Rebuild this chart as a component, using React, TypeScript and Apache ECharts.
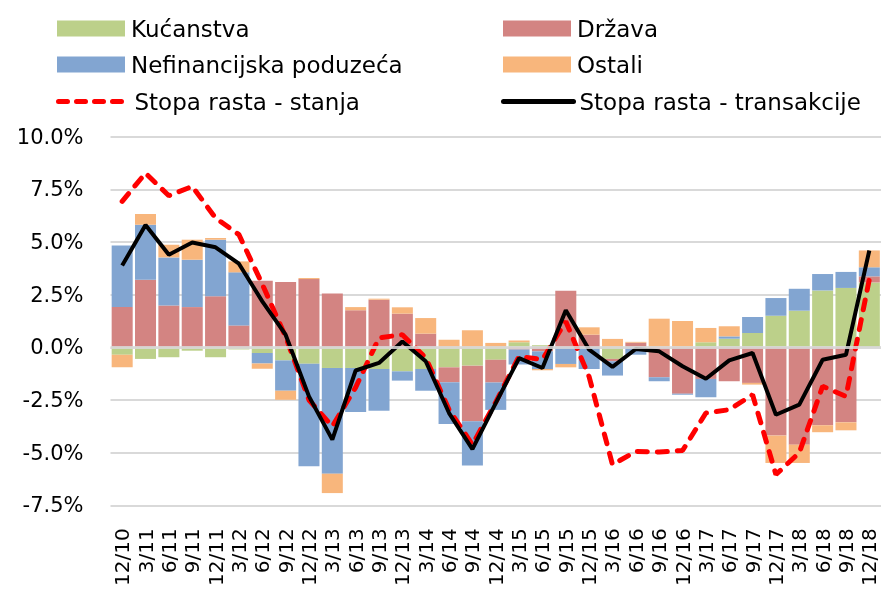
import React, { useEffect, useRef } from "react";
import * as echarts from "echarts";

const categories = [
  "12/10", "3/11", "6/11", "9/11", "12/11", "3/12", "6/12", "9/12", "12/12",
  "3/13", "6/13", "9/13", "12/13", "3/14", "6/14", "9/14", "12/14",
  "3/15", "6/15", "9/15", "12/15", "3/16", "6/16", "9/16", "12/16",
  "3/17", "6/17", "9/17", "12/17", "3/18", "6/18", "9/18", "12/18",
];

const kucanstva = [
  -0.35, -0.55, -0.47, -0.16, -0.47, -0.1, -0.27, -0.62, -0.78, -0.98, -0.98,
  -1.03, -1.14, -1.03, -0.95, -0.87, -0.59, 0.24, 0.1, 0, 0, -0.55, 0, 0, 0,
  0.24, 0.41, 0.68, 1.5, 1.74, 2.7, 2.82, 3.08,
];
const drzava = [
  1.91, 3.21, 1.99, 1.91, 2.42, 1.04, 3.16, 3.1, 3.24, 2.55, 1.76, 2.26, 1.6,
  0.65, -0.71, -2.64, -1.08, -0.1, -0.19, 2.69, 0.6, -0.11, 0.22, -1.42, -2.2,
  -1.5, -1.61, -1.69, -4.19, -4.62, -3.7, -3.56, 0.29,
];
const nefinancijska = [
  2.92, 2.61, 2.28, 2.25, 2.69, 2.52, -0.5, -1.44, -4.87, -5.02, -2.09, -1.98,
  -0.44, -1.03, -1.98, -2.1, -1.3, -0.71, -0.84, -0.79, -1.03, -0.68, -0.35,
  -0.19, -0.05, -0.87, 0.11, 0.76, 0.84, 1.04, 0.78, 0.76, 0.43,
];
const ostali = [
  -0.6, 0.51, 0.6, 0.95, 0.08, 0.52, -0.25, -0.43, 0.05, -0.92, 0.15, 0.05,
  0.3, 0.74, 0.36, 0.81, 0.21, 0.09, -0.06, -0.16, 0.35, 0.4, 0.04, 1.36, 1.25,
  0.68, 0.48, -0.08, -1.3, -0.87, -0.33, -0.38, 0.8,
];
const stopaStanja = [
  6.93, 8.27, 7.2, 7.64, 6.14, 5.35, 3.0, 0.5, -2.5, -3.75, -1.9, 0.45, 0.6,
  -0.5, -2.96, -4.62, -2.6, -0.43, -0.58, 1.23, -1.4, -5.57, -4.94, -4.97,
  -4.9, -3.12, -2.96, -2.25, -6.04, -5.0, -1.85, -2.33, 3.24,
];
const stopaTransakcije = [
  3.88, 5.81, 4.4, 4.98, 4.75, 3.97, 2.18, 0.6, -2.33, -4.38, -1.1, -0.74,
  0.28, -0.66, -3.12, -4.83, -2.65, -0.51, -0.98, 1.76, -0.11, -0.93, -0.08,
  -0.19, -0.9, -1.49, -0.62, -0.27, -3.2, -2.72, -0.59, -0.35, 4.6,
];

const FONT = "DejaVu Sans";

function legendItem(
  name: string,
  left: number,
  top: number,
  line?: { color: string; width: number; type: any }
) {
  return {
    data: [
      line
        ? {
            name,
            itemStyle: { opacity: 0 },
            lineStyle: { color: line.color, width: line.width, type: line.type, cap: "round" },
          }
        : { name, icon: "path://M0,0H68V16H0Z" },
    ],
    left,
    top,
    padding: 0,
    itemWidth: line ? 70 : 68,
    itemHeight: 16,
    selectedMode: false,
    textStyle: {
      fontSize: 23,
      fontFamily: FONT,
      color: "#000",
      padding: [0, 0, 0, 1],
    },
  };
}

export default function App() {
  const ref = useRef<HTMLDivElement>(null);
  useEffect(() => {
    if (!ref.current) return;
    const chart = echarts.init(ref.current, undefined, { renderer: "svg" });
    const barBase = {
      type: "bar",
      stack: "total",
      barCategoryGap: "10%",
    };
    chart.setOption({
      animation: false,
      legend: [
        legendItem("Kućanstva", 57, 17),
        legendItem("Država", 503, 17),
        legendItem("Nefinancijska poduzeća", 57, 53),
        legendItem("Ostali", 503, 53),
        legendItem("Stopa rasta - stanja", 56, 90, { color: "#ff0000", width: 5, type: [9, 9] }),
        legendItem("Stopa rasta - transakcije", 501, 90, { color: "#000000", width: 5, type: "solid" }),
      ],
      grid: { left: 110.5, top: 136.7, width: 775.3, bottom: 88.7, containLabel: false },
      xAxis: {
        type: "category",
        data: categories,
        axisLine: { show: false },
        axisTick: { show: false },
        axisLabel: {
          rotate: 90,
          interval: 0,
          margin: 23,
          fontSize: 20,
          fontFamily: FONT,
          color: "#000",
        },
      },
      yAxis: {
        type: "value",
        min: -7.5,
        max: 10,
        interval: 2.5,
        axisLine: { show: false },
        axisTick: { show: false },
        splitLine: { lineStyle: { color: "#d9d9d9", width: 2 } },
        axisLabel: {
          margin: 27,
          fontSize: 21,
          fontFamily: FONT,
          color: "#000",
          formatter: (v: number) => v.toFixed(1) + "%",
        },
      },
      series: [
        { ...barBase, name: "Kućanstva", data: kucanstva, itemStyle: { color: "#bcd08a" } },
        { ...barBase, name: "Država", data: drzava, itemStyle: { color: "#d38482" } },
        { ...barBase, name: "Nefinancijska poduzeća", data: nefinancijska, itemStyle: { color: "#82a5d1" } },
        {
          ...barBase,
          name: "Ostali",
          data: ostali,
          itemStyle: { color: "#f8b67c" },
          markLine: {
            silent: true,
            symbol: "none",
            label: { show: false },
            lineStyle: { color: "#d9d9d9", width: 3, type: "solid", opacity: 0.85 },
            data: [{ yAxis: 0 }],
          },
        },
        {
          type: "line",
          name: "Stopa rasta - stanja",
          data: stopaStanja,
          symbol: "none",
          lineStyle: { color: "#ff0000", width: 5, type: [10, 10], cap: "round" },
          itemStyle: { color: "#ff0000" },
        },
        {
          type: "line",
          name: "Stopa rasta - transakcije",
          data: stopaTransakcije,
          symbol: "none",
          lineStyle: { color: "#000000", width: 4 },
          itemStyle: { color: "#000000" },
        },
      ],
    });
    return () => chart.dispose();
  }, []);
  return (
    <div
      ref={ref}
      style={{ position: "fixed", left: 0, top: 0, width: 881, height: 594 }}
    />
  );
}
